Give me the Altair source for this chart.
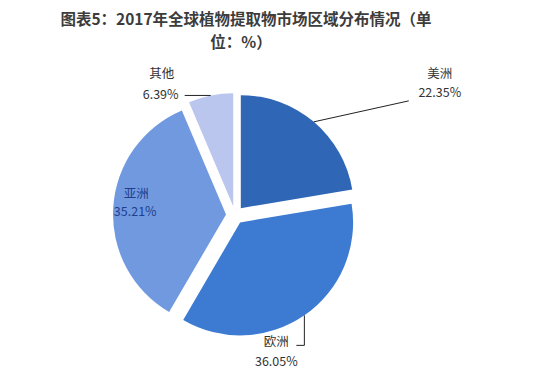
import math
import altair as alt
import pandas as pd

# ---- data ----
categories = ["美洲", "欧洲", "亚洲", "其他"]
shares = [22.35, 36.05, 35.21, 6.39]
share_labels = ["22.35%", "36.05%", "35.21%", "6.39%"]
colors = ["#2f66b5", "#3d7bd2", "#7199e0", "#bac6ee"]
title_lines = ["图表5：2017年全球植物提取物市场区域分布情况（单", "位：%）"]

# ---- layout ----
W, H = 550, 377
CX, CY = 235, 215
R = 113
EXPLODE = 9
FONT = "Noto Sans CJK SC"

# leader paths relative to each slice's outer edge point at its mid angle
LEADERS = {
    "美洲": [(0, 0), (95, -21)],
    "欧洲": [(0, 0), (0, 30), (-8, 30)],
    "其他": [(0, 0), (-26, 0)],
    "亚洲": [],
}
# label offsets (name, percentage) relative to the same edge point
LABEL_OFF = {
    "美洲": ((126, -48), (126, -29)),
    "欧洲": ((-28, 27), (-28, 47)),
    "其他": ((-49, -21), (-50, 0)),
    "亚洲": ((23, -13), (22, 5)),
}
LABEL_COLOR = {"美洲": "#333333", "欧洲": "#333333", "其他": "#333333", "亚洲": "#1f3f8c"}

total = sum(shares)
rows, lead_rows, text_rows = [], [], []
cum = 0.0
for cat, v, lab in zip(categories, shares, share_labels):
    start = cum / total * 2 * math.pi
    cum += v
    end = cum / total * 2 * math.pi
    mid = (start + end) / 2
    cx = CX + EXPLODE * math.sin(mid)
    cy = CY - EXPLODE * math.cos(mid)
    rows.append({"cat": cat, "start": start, "end": end, "cx": cx, "cy": cy})
    ex = cx + R * math.sin(mid)
    ey = cy - R * math.cos(mid)
    for i, (dx, dy) in enumerate(LEADERS[cat]):
        lead_rows.append({"cat": cat, "o": i, "px": ex + dx, "py": ey + dy})
    (nx, ny), (qx, qy) = LABEL_OFF[cat]
    text_rows.append({"cat": cat, "t": cat, "tx": ex + nx, "ty": ey + ny, "c": LABEL_COLOR[cat]})
    text_rows.append({"cat": cat, "t": lab, "tx": ex + qx, "ty": ey + qy, "c": LABEL_COLOR[cat]})

df = pd.DataFrame(rows)
lead = pd.DataFrame(lead_rows)
texts = pd.DataFrame(text_rows)

pie = alt.Chart(df).mark_arc(radius=R, strokeWidth=0).encode(
    theta=alt.Theta("start:Q", scale=None, stack=False),
    theta2=alt.Theta2("end:Q"),
    x=alt.X("cx:Q", scale=None, axis=None),
    y=alt.Y("cy:Q", scale=None, axis=None),
    color=alt.Color("cat:N", scale=alt.Scale(domain=categories, range=colors), legend=None),
)

leaders = alt.Chart(lead).mark_line(color="#222222", strokeWidth=1).encode(
    x=alt.X("px:Q", scale=None, axis=None),
    y=alt.Y("py:Q", scale=None, axis=None),
    detail="cat:N",
    order="o:Q",
)

labels = alt.Chart(texts).mark_text(font=FONT, fontSize=12.5, align="center", baseline="middle").encode(
    x=alt.X("tx:Q", scale=None, axis=None),
    y=alt.Y("ty:Q", scale=None, axis=None),
    text="t:N",
    color=alt.Color("c:N", scale=None),
)

t1 = alt.Chart(pd.DataFrame({"t": [title_lines[0]]})).mark_text(
    font=FONT, fontSize=15.5, fontWeight="bold", color="#3c3c3c", align="center", baseline="middle"
).encode(x=alt.value(246), y=alt.value(20), text="t:N")
t2 = alt.Chart(pd.DataFrame({"t": [title_lines[1]]})).mark_text(
    font=FONT, fontSize=15.5, fontWeight="bold", color="#3c3c3c", align="center", baseline="middle"
).encode(x=alt.value(241), y=alt.value(43), text="t:N")

chart = alt.layer(pie, leaders, labels, t1, t2).properties(
    width=W, height=H, autosize=alt.AutoSizeParams(type="none"), padding=0,
    background="white",
).configure_view(stroke=None)

chart.save("out.html", embed_options={"renderer": "svg", "actions": False})
